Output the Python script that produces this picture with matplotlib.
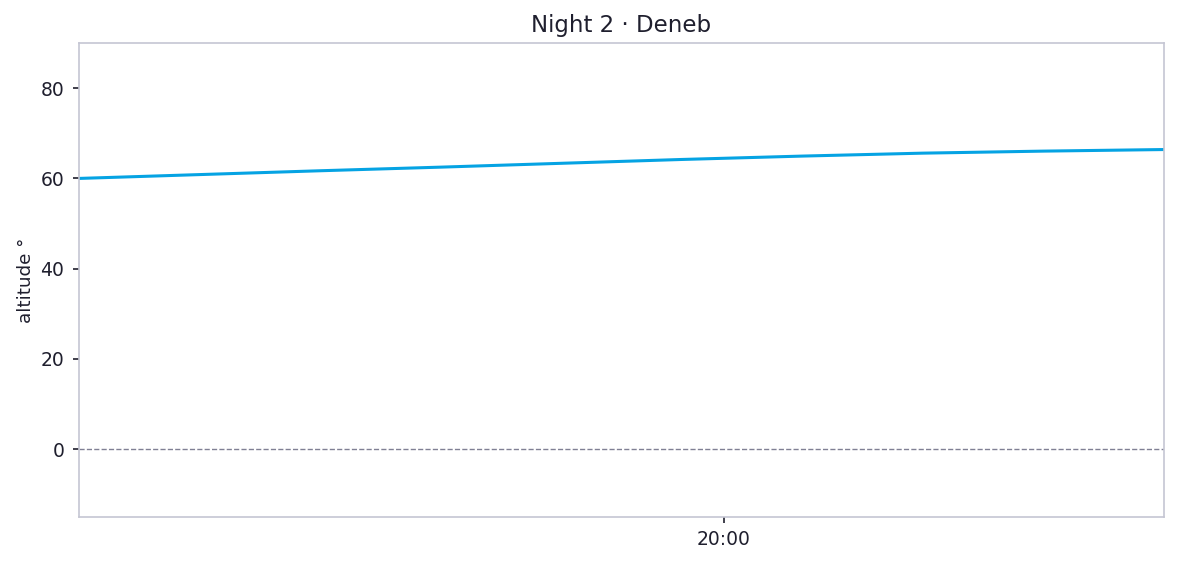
import numpy as np
import pandas as pd
import matplotlib
matplotlib.use('Agg')
import matplotlib.pyplot as plt
import matplotlib.dates as mdates

# altitude of Deneb, sampled every 10 minutes
start = '2024-01-02 19:06:30'
minutes = [0, 10, 20, 30, 40, 50, 60, 70, 80, 90]
altitude = [60.0, 60.85, 61.7, 62.5, 63.35, 64.2, 64.95, 65.6, 66.05, 66.4]
title = 'Night 2 \u00b7 Deneb'

times = pd.Timestamp(start) + pd.to_timedelta(minutes, unit='m')

text_col = '#1f1f2e'
spine_col = '#c5c6d3'

fig = plt.figure(figsize=(11.77, 5.64), dpi=100)
ax = fig.add_axes([79/1177, 1-517/564, (1164-79)/1177, (517-43)/564])

ax.plot(times, altitude, color='#05a3e3', lw=2.2)
ax.axhline(0, color='#808094', lw=1, ls='--')

ax.set_xlim(times[0], times[-1])
ax.set_ylim(-15, 90)
ax.set_yticks([0, 20, 40, 60, 80])
ax.xaxis.set_major_locator(mdates.HourLocator())
ax.xaxis.set_major_formatter(mdates.DateFormatter('%H:%M'))

for s in ax.spines.values():
    s.set_color(spine_col)
    s.set_linewidth(1.2)
ax.tick_params(colors=text_col, labelsize=13.5, length=4.5, width=1.2)
ax.tick_params(axis='x', pad=5)
ax.tick_params(axis='y', pad=6)
ax.set_ylabel('altitude \u00b0', fontsize=13.2, color=text_col, labelpad=4)
ax.set_title(title, fontsize=16.5, color=text_col, pad=8)

fig.savefig('out.png', dpi=100)
